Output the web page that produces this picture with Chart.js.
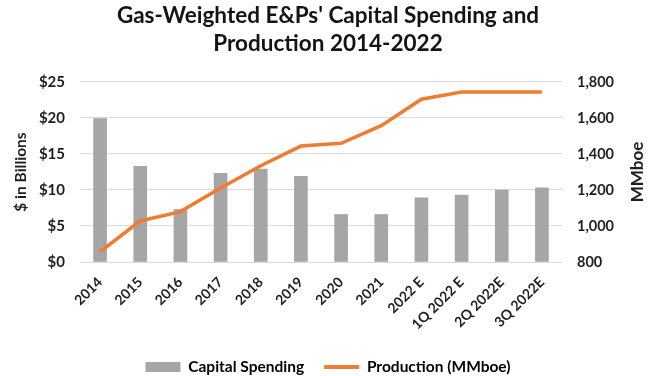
<!DOCTYPE html>
<html>
<head>
<meta charset="utf-8">
<script src="https://cdn.jsdelivr.net/npm/chart.js@4.4.1/dist/chart.umd.min.js"></script>
<style>
  html, body { margin: 0; padding: 0; background: #fff; }
  #wrap { width: 656px; height: 376px; }
</style>
</head>
<body>
<div id="wrap"><canvas id="capexChart"></canvas></div>
<script>
// Data
const periods = ["2014", "2015", "2016", "2017", "2018", "2019", "2020", "2021", "2022 E", "1Q 2022 E", "2Q 2022E", "3Q 2022E"];
const capitalSpending = [19.9, 13.3, 7.3, 12.3, 12.9, 11.9, 6.6, 6.6, 8.9, 9.3, 10.0, 10.3];
const production = [857, 1028, 1080, 1211, 1335, 1444, 1459, 1557, 1704, 1744, 1744, 1744];
const spendTicks = [0, 5, 10, 15, 20, 25];
const prodTicks = [800, 1000, 1200, 1400, 1600, 1800];

const FONT = "Lato, 'Open Sans', sans-serif";
const gray = "#a6a6a6";
const orange = "#ed7d31";

// right axis title reads bottom-to-top, so it is drawn here
const rightTitle = {
  id: "rightTitle",
  afterDraw(chart) {
    const { ctx, chartArea } = chart;
    ctx.save();
    ctx.translate(638, (chartArea.top + chartArea.bottom) / 2);
    ctx.rotate(-Math.PI / 2);
    ctx.font = "bold 17px " + FONT;
    ctx.fillStyle = "#1f1f1f";
    ctx.textAlign = "center";
    ctx.textBaseline = "middle";
    ctx.fillText("MMboe", 0, 0);
    ctx.restore();
  },
};

const capexData = {
  labels: periods,
  datasets: [
    {
      type: "line",
      label: "Production (MMboe)",
      data: production,
      yAxisID: "y1",
      borderColor: orange,
      backgroundColor: orange,
      borderWidth: 3.5,
      pointRadius: 0,
      tension: 0,
      order: 0,
    },
    {
      type: "bar",
      label: "Capital Spending",
      data: capitalSpending,
      yAxisID: "y",
      backgroundColor: gray,
      barThickness: 13,
      order: 1,
    },
  ],
};

const capexConfig = {
  data: capexData,
  options: {
    responsive: true,
    maintainAspectRatio: false,
    animation: false,
    layout: { padding: { top: 0, left: 0, right: 0, bottom: -8.75 } },
    plugins: {
      title: {
        display: true,
        text: ["Gas-Weighted E&Ps' Capital Spending and", "Production 2014-2022"],
        color: "#141414",
        font: { family: FONT, size: 22.5, weight: "bold", lineHeight: 1.244 },
        padding: { top: 2, bottom: 24 },
      },
      legend: {
        position: "bottom",
        reverse: true,
        labels: {
          usePointStyle: true,
          pointStyleWidth: 35,
          boxHeight: 10,
          padding: 20,
          color: "#1f1f1f",
          font: { family: FONT, size: 15.5, weight: "bold" },
          generateLabels(chart) {
            return chart.data.datasets.map((ds, i) => ({
              text: ds.label,
              datasetIndex: i,
              fillStyle: ds.backgroundColor,
              strokeStyle: ds.type === "line" ? ds.borderColor : ds.backgroundColor,
              lineWidth: ds.type === "line" ? 4 : 0,
              pointStyle: ds.type === "line" ? "line" : "rect",
              hidden: false,
            }));
          },
        },
      },
      tooltip: { enabled: false },
    },
    scales: {
      x: {
        grid: { display: false },
        border: { display: false },
        ticks: {
          color: "#1f1f1f",
          font: { family: FONT, size: 14, weight: "bold" },
          minRotation: 45,
          maxRotation: 45,
          padding: 4,
        },
        afterFit(s) { s.height = 77.25; },
      },
      y: {
        position: "left",
        min: 0,
        max: 25,
        afterBuildTicks(s) { s.ticks = spendTicks.map((v) => ({ value: v })); },
        grid: { color: "#d9d9d9", drawTicks: false },
        border: { display: false },
        ticks: {
          color: "#1f1f1f",
          padding: 15,
          font: { family: FONT, size: 15, weight: "bold" },
          callback: (v) => "$" + v,
        },
        title: {
          display: true,
          text: "$ in Billions",
          color: "#1f1f1f",
          font: { family: FONT, size: 15.5, weight: "bold", lineHeight: 1.2 },
          padding: { top: 12, bottom: 0 },
        },
        afterFit(s) { s.width = 80; },
      },
      y1: {
        position: "right",
        min: 800,
        max: 1800,
        afterBuildTicks(s) { s.ticks = prodTicks.map((v) => ({ value: v })); },
        grid: { display: false, drawTicks: false },
        border: { display: false },
        ticks: {
          color: "#1f1f1f",
          padding: 15,
          font: { family: FONT, size: 14.5, weight: "bold" },
          callback: (v) => v.toLocaleString("en-US"),
        },
        afterFit(s) { s.width = 94; },
      },
    },
  },
  plugins: [rightTitle],
};

const capexChart = new Chart(document.getElementById("capexChart"), capexConfig);
</script>
</body>
</html>
